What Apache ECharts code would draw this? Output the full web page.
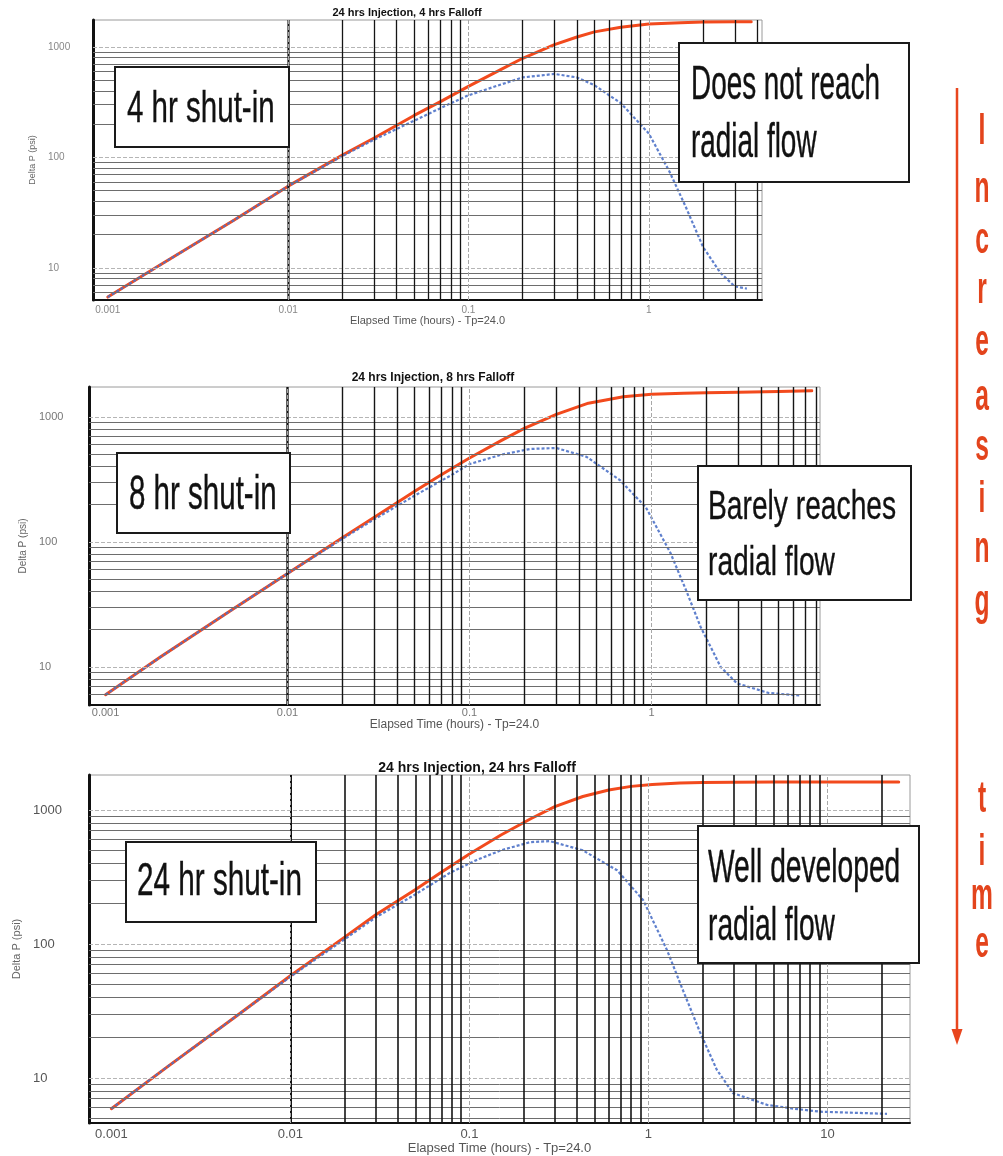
<!DOCTYPE html>
<html><head><meta charset="utf-8">
<script src="https://cdn.jsdelivr.net/npm/echarts@6/dist/echarts.min.js"></script>
<style>html,body{margin:0;padding:0;background:#fff}#c{width:1003px;height:1156px}</style>
</head><body><div id="c"></div>
<script>
// ---------------- data ----------------
const chartTitles = ['24 hrs Injection, 4 hrs Falloff', '24 hrs Injection, 8 hrs Falloff', '24 hrs Injection, 24 hrs Falloff'];
const xAxisTitle = 'Elapsed Time (hours) - Tp=24.0';
const yAxisTitle = 'Delta P (psi)';
const xTickLabels = {'-3': '0.001', '-2': '0.01', '-1': '0.1', '0': '1', '1': '10'};
const yTickLabels = {'1': '10', '2': '100', '3': '1000'};
const shutInLabels = ['4 hr shut-in', '8 hr shut-in', '24 hr shut-in'];
const flowLabels = [['Does not reach', 'radial flow'], ['Barely reaches', 'radial flow'], ['Well developed', 'radial flow']];
const sideWord1 = ['I', 'n', 'c', 'r', 'e', 'a', 's', 'i', 'n', 'g'];
const sideWord2 = ['t', 'i', 'm', 'e'];

// 4 hr falloff
const time4Dp = [0.001, 0.002, 0.005, 0.01, 0.02, 0.03, 0.05, 0.07, 0.1, 0.15, 0.2, 0.3, 0.4, 0.5, 0.7, 1, 1.5, 2, 3, 3.7];
const dp4 = [5.45, 10.9, 27, 55, 105, 150, 240, 320, 440, 620, 790, 1050, 1230, 1370, 1510, 1610, 1660, 1680, 1690, 1690];
const time4Der = [0.001, 0.002, 0.005, 0.01, 0.02, 0.03, 0.05, 0.08, 0.1, 0.15, 0.2, 0.3, 0.4, 0.5, 0.7, 1, 1.3, 1.6, 2, 2.5, 3, 3.5];
const der4 = [5.45, 10.9, 27, 55, 103, 145, 215, 310, 365, 455, 530, 570, 530, 450, 310, 165, 75, 36, 15.5, 9, 6.8, 6.5];

// 8 hr falloff
const time8Dp = [0.001, 0.002, 0.005, 0.01, 0.02, 0.03, 0.05, 0.07, 0.1, 0.15, 0.2, 0.3, 0.45, 0.7, 1, 1.5, 2, 3, 5, 7.6];
const dp8 = [6, 12, 29, 56, 108, 158, 255, 345, 470, 650, 810, 1050, 1290, 1450, 1520, 1550, 1560, 1580, 1600, 1620];
const time8Der = [0.001, 0.002, 0.005, 0.01, 0.02, 0.03, 0.05, 0.08, 0.1, 0.15, 0.215, 0.3, 0.44, 0.67, 0.93, 1.27, 1.55, 1.86, 2.4, 2.95, 4.4, 6.6];
const der8 = [6, 12, 29, 56, 106, 152, 235, 345, 420, 500, 555, 565, 480, 313, 190, 82, 41, 21, 10, 7.4, 6.2, 5.9];

// 24 hr falloff
const time24Dp = [0.001, 0.002, 0.005, 0.01, 0.02, 0.03, 0.05, 0.07, 0.1, 0.15, 0.22, 0.3, 0.43, 0.6, 0.8, 1.05, 1.5, 2, 3, 5, 9, 25];
const dp24 = [5.9, 11.8, 29, 58, 112, 165, 255, 345, 470, 650, 860, 1060, 1260, 1410, 1500, 1550, 1590, 1600, 1610, 1615, 1620, 1620];
const time24Der = [0.001, 0.002, 0.005, 0.01, 0.02, 0.03, 0.05, 0.078, 0.11, 0.15, 0.218, 0.282, 0.43, 0.668, 0.933, 1.27, 1.56, 1.94, 2.41, 2.97, 4.6, 6.5, 9.1, 14, 21.5];
const der24 = [5.9, 11.8, 29, 57, 108, 158, 235, 340, 424, 500, 575, 585, 500, 355, 213, 90, 45, 22, 11.5, 7.7, 6.3, 5.9, 5.6, 5.5, 5.4];

const dpSets = [[time4Dp, dp4], [time8Dp, dp8], [time24Dp, dp24]];
const derSets = [[time4Der, der4], [time8Der, der8], [time24Der, der24]];

// ---------------- layout ----------------
const L = [
  {left: 93, top: 20, width: 669, height: 280, xl: [-3.082, 0.628], yl: [0.710, 3.244],
   titleX: 407, titleY: 13, titleSize: 11, xLabSize: 10, xLabMargin: 5, xNameSize: 11, xNameGap: 12,
   yLabSize: 10, yLabLeft: 48, yNameSize: 9, yNameGap: 56, labColor: '#888', vWidth: 1.3},
  {left: 89, top: 387, width: 731, height: 318, xl: [-3.091, 0.926], yl: [0.696, 3.24],
   titleX: 433, titleY: 378, titleSize: 12, xLabSize: 11, xLabMargin: 2, xNameSize: 12, xNameGap: 10,
   yLabSize: 11, yLabLeft: 39, yNameSize: 10, yNameGap: 59, labColor: '#777', vWidth: 1.4},
  {left: 89, top: 775, width: 821, height: 348, xl: [-3.125, 1.461], yl: [0.664, 3.261],
   titleX: 477, titleY: 768, titleSize: 14, xLabSize: 13, xLabMargin: 5, xNameSize: 13, xNameGap: 16,
   yLabSize: 13, yLabLeft: 33, yNameSize: 11, yNameGap: 63, labColor: '#555', vWidth: 1.6}
];
const FONT = '"Liberation Sans", Arial, sans-serif';
const NARROW_X = 0.82; // Arial-Narrow-like horizontal compression

function decadeLabel(map) {
  return function (v) {
    const l = Math.log10(v);
    const r = Math.round(l);
    if (Math.abs(l - r) > 0.01) return '';
    return map[String(r)] || '';
  };
}

function gridValues(lo, hi) {
  const out = [];
  for (let k = Math.floor(lo); k <= Math.ceil(hi); k++) {
    for (let m = 1; m <= 9; m++) {
      const v = m * Math.pow(10, k);
      const l = Math.log10(v);
      if (l > lo + 0.004 && l < hi - 0.004) out.push({v: v, major: m === 1});
    }
  }
  return out;
}

const grids = [], xAxes = [], yAxes = [], series = [], graphics = [];

L.forEach(function (c, i) {
  grids.push({left: c.left, top: c.top, width: c.width, height: c.height, show: true,
    borderColor: '#9a9a9a', borderWidth: 1, backgroundColor: 'transparent', containLabel: false});
  xAxes.push({type: 'log', gridIndex: i, logBase: 10, min: Math.pow(10, c.xl[0]), max: Math.pow(10, c.xl[1]),
    name: xAxisTitle, nameLocation: 'middle', nameGap: c.xNameGap,
    nameTextStyle: {fontSize: c.xNameSize, color: '#555', fontFamily: FONT},
    axisLine: {show: true, lineStyle: {color: '#111', width: 2}},
    axisTick: {show: false}, splitLine: {show: false}, minorTick: {show: false},
    axisLabel: {formatter: decadeLabel(xTickLabels), fontSize: c.xLabSize, color: c.labColor,
      fontFamily: FONT, margin: c.xLabMargin, showMinLabel: false, showMaxLabel: false}
  });
  yAxes.push({type: 'log', gridIndex: i, logBase: 10, min: Math.pow(10, c.yl[0]), max: Math.pow(10, c.yl[1]),
    name: yAxisTitle, nameLocation: 'middle', nameGap: c.yNameGap,
    nameTextStyle: {fontSize: c.yNameSize, color: '#666', fontFamily: FONT},
    axisLine: {show: true, lineStyle: {color: '#111', width: 3}},
    axisTick: {show: false}, splitLine: {show: false},
    axisLabel: {formatter: decadeLabel(yTickLabels), fontSize: c.yLabSize, color: c.labColor,
      fontFamily: FONT, align: 'left', margin: c.left - c.yLabLeft, showMinLabel: false, showMaxLabel: false}
  });

  // grid lines (through the axis scales)
  const mlData = [];
  gridValues(c.yl[0], c.yl[1]).forEach(function (g) {
    mlData.push({yAxis: g.v, lineStyle: g.major ? {color: '#b5b5b5', width: 1, type: [4, 2]} : {color: '#6d6d6d', width: 1, type: 'solid'}});
  });
  gridValues(c.xl[0], c.xl[1]).forEach(function (g) {
    mlData.push({xAxis: g.v, lineStyle: g.major ? {color: '#a8a8a8', width: 1, type: [4, 2]} : {color: '#151515', width: c.vWidth, type: 'solid'}});
  });
  series.push({type: 'line', xAxisIndex: i, yAxisIndex: i, data: [], silent: true, z: 1,
    markLine: {symbol: ['none', 'none'], silent: true, animation: false, label: {show: false},
      emphasis: {disabled: true}, data: mlData}});

  const dps = dpSets[i], ders = derSets[i];
  series.push({type: 'line', xAxisIndex: i, yAxisIndex: i, z: 3, showSymbol: false, symbol: 'none',
    smooth: false, animation: false,
    lineStyle: {color: '#f24a1d', width: 3, join: 'round', cap: 'round'},
    data: dps[0].map(function (t, k) { return [t, dps[1][k]]; })});
  series.push({type: 'line', xAxisIndex: i, yAxisIndex: i, z: 4, showSymbol: false, symbol: 'none',
    smooth: false, animation: false,
    lineStyle: {color: '#4e72c8', width: 2.2, type: [3, 2], opacity: 0.9},
    data: ders[0].map(function (t, k) { return [t, ders[1][k]]; })});

  graphics.push({type: 'text', x: c.titleX, y: c.titleY, z: 50,
    style: {text: chartTitles[i], font: 'bold ' + c.titleSize + 'px ' + FONT, fill: '#111',
      textAlign: 'center', textVerticalAlign: 'middle', align: 'center', verticalAlign: 'middle'}});
});

// annotation boxes
const boxes = [
  {x: 115, y: 67, w: 174, h: 80}, {x: 679, y: 43, w: 230, h: 139},
  {x: 117, y: 453, w: 173, h: 80}, {x: 698, y: 466, w: 213, h: 134},
  {x: 126, y: 842, w: 190, h: 80}, {x: 698, y: 826, w: 221, h: 137}
];
const boxTexts = [
  {lines: [shutInLabels[0]], x: 127, base: [125], size: 36, sy: 1.24},
  {lines: flowLabels[0], x: 691, base: [102, 160], size: 34, sy: 1.4},
  {lines: [shutInLabels[1]], x: 129, base: [512], size: 36, sy: 1.32},
  {lines: flowLabels[1], x: 708, base: [522, 578], size: 34.4, sy: 1.2},
  {lines: [shutInLabels[2]], x: 137, base: [898], size: 36.2, sy: 1.27},
  {lines: flowLabels[2], x: 708, base: [885, 943], size: 34.4, sy: 1.34}
];
boxes.forEach(function (b) {
  graphics.push({type: 'rect', z: 100, shape: {x: b.x, y: b.y, width: b.w, height: b.h},
    style: {fill: '#fff', stroke: '#1a1a1a', lineWidth: 2}});
});
boxTexts.forEach(function (t) {
  t.lines.forEach(function (s, k) {
    graphics.push({type: 'text', z: 101, x: t.x, y: t.base[k] - 0.3465 * t.size * t.sy,
      scaleX: NARROW_X, scaleY: t.sy,
      style: {text: s, font: t.size + 'px ' + FONT, fill: '#111', stroke: '#111', lineWidth: 0.3,
        textAlign: 'left', textVerticalAlign: 'middle', align: 'left', verticalAlign: 'middle'}});
  });
});

// "Increasing time" arrow
const ARROW = '#e8461e';
graphics.push({type: 'line', z: 60, shape: {x1: 957, y1: 88, x2: 957, y2: 1032}, style: {stroke: ARROW, lineWidth: 2.5}});
graphics.push({type: 'polygon', z: 60, shape: {points: [[951.5, 1029], [962.5, 1029], [957, 1045]]}, style: {fill: ARROW}});
const letterBase1 = [147, 205, 256, 306, 358, 413, 463, 515, 565, 618];
const letterBase2 = [815, 868, 912, 960];
function letter(s, base) {
  const size = 30, sy = 1.5;
  graphics.push({type: 'text', z: 60, x: 982, y: base - 0.3465 * size * sy, scaleX: NARROW_X, scaleY: sy,
    style: {text: s, font: 'bold ' + size + 'px ' + FONT, fill: '#e3441c',
      textAlign: 'center', textVerticalAlign: 'middle', align: 'center', verticalAlign: 'middle'}});
}
sideWord1.forEach(function (s, k) { letter(s, letterBase1[k]); });
sideWord2.forEach(function (s, k) { letter(s, letterBase2[k]); });

const chart = echarts.init(document.getElementById('c'), null, {renderer: 'canvas'});
chart.setOption({
  animation: false,
  backgroundColor: '#ffffff',
  grid: grids, xAxis: xAxes, yAxis: yAxes, series: series, graphic: graphics
});
</script>
</body></html>
